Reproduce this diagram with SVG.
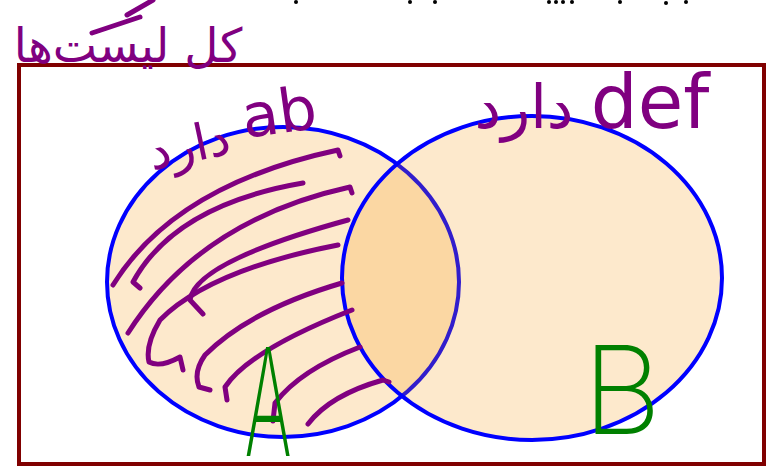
<svg xmlns="http://www.w3.org/2000/svg" width="767" height="468" viewBox="0 0 767 468">
<style>
.hw{fill:none;stroke:#800080;stroke-width:5;stroke-linecap:round;stroke-linejoin:round}
.fa{font-family:'DejaVu Sans',sans-serif;fill:#800080}
.lat{font-family:'DejaVu Sans',sans-serif;fill:#800080}
.gr{font-family:Inter,Roboto,Lato,sans-serif;font-weight:200;fill:#008000}
.ring{stroke:#0000ff;stroke-width:4}
</style>
<rect id="universe" x="19" y="65" width="745" height="399" fill="#ffffff" stroke="#800000" stroke-width="4"/>
<g id="setA">
<ellipse class="ring" cx="283" cy="282" rx="176" ry="155" fill="#fde9cc"/>
</g>
<g id="setB">
<ellipse class="ring" cx="532" cy="278" rx="190" ry="162" fill="#f59100" fill-opacity="0.2"/>
</g>
<g id="hatch">
<path class="hw" d="M113,285 Q175,185 338,150 L340,156"/>
<path class="hw" d="M140,288 L133,282 Q175,205 303,183"/>
<path class="hw" d="M128,333 Q200,220 350,187 L352,193"/>
<path class="hw" d="M203,314 L190,300 Q195,262 348,220"/>
<path class="hw" d="M183,370 L180,357 Q160,368 149,362 Q145,345 160,320 Q210,270 338,245"/>
<path class="hw" d="M210,390 L199,387 Q193,372 205,355 Q250,310 342,283"/>
<path class="hw" d="M227,400 L225,387 Q250,350 352,310"/>
<path class="hw" d="M273,421 L275,403 Q300,370 360,347"/>
<path class="hw" d="M308,424 Q330,395 383,380 L389,382"/>
<path class="hw" d="M92,33 L140,17"/>
<path class="hw" d="M127,15 L153,0"/>
</g>
<g id="dots" fill="#000">
<circle cx="296" cy="2" r="2"/><circle cx="410" cy="2" r="2"/><circle cx="435" cy="2" r="2"/>
<circle cx="549" cy="2" r="2"/><circle cx="556" cy="2" r="2"/><circle cx="563" cy="2" r="2"/><circle cx="572" cy="2" r="2"/>
<circle cx="620" cy="2" r="2"/><circle cx="666" cy="3" r="2"/><circle cx="686" cy="2" r="2"/>
</g>
<g id="labels">
<text class="fa" x="128" y="62" font-size="47" text-anchor="middle">کل لیست‌ها</text>
<text class="fa" x="190" y="162" font-size="50" text-anchor="middle" transform="rotate(-12 190 150)">دارد</text>
<text class="lat" x="280" y="133" font-size="60" text-anchor="middle" transform="rotate(-8 280 120)">ab</text>
<text class="fa" x="524" y="128" font-size="60" text-anchor="middle">دارد</text>
<text class="lat" x="650" y="128" font-size="74" text-anchor="middle">def</text>
<text class="gr" x="0" y="0" font-size="150" text-anchor="middle" font-weight="400" transform="translate(268,456) scale(0.48,1)">A</text>
<text class="gr" x="622" y="434" font-size="122" text-anchor="middle">B</text>
</g>
</svg>
